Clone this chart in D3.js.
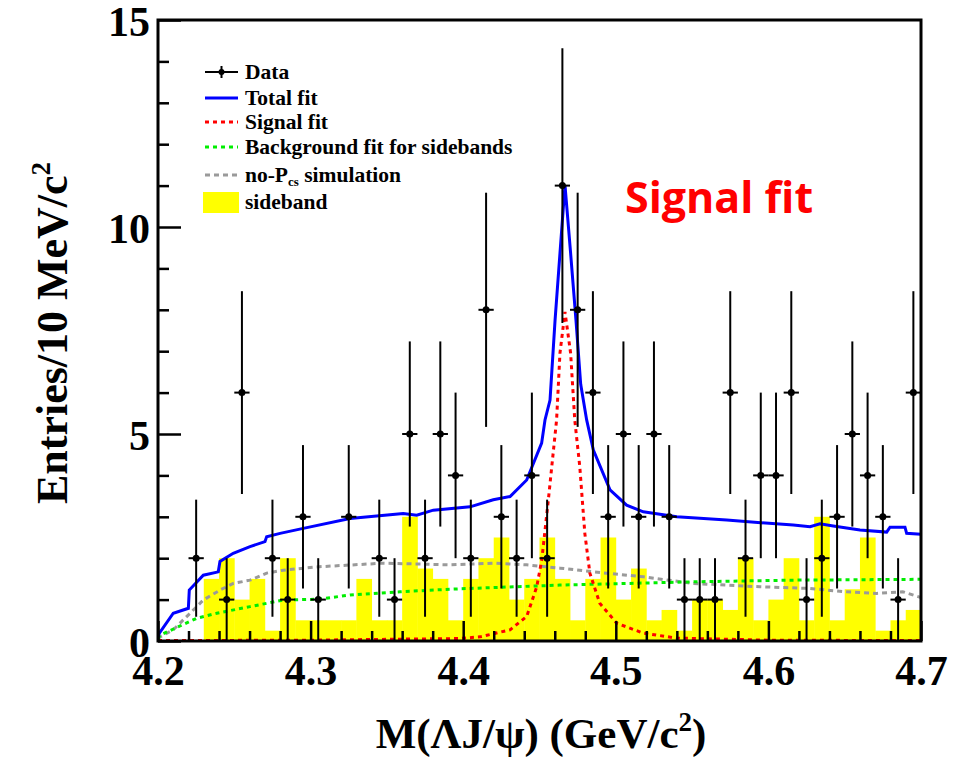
<!DOCTYPE html>
<html><head><meta charset="utf-8">
<script src="https://cdn.jsdelivr.net/npm/d3@7"></script>
<style>
html,body{margin:0;padding:0;background:#fff;}
svg{display:block;}
</style>
</head><body>
<svg id="chart" width="968" height="759"></svg>
<script>
// ---- Data: M(ΛJ/ψ) spectrum, 10 MeV bins from 4.20 to 4.70 GeV ----
const binCenters = [
  4.205,4.215,4.225,4.235,4.245,4.255,4.265,4.275,4.285,4.295,
  4.305,4.315,4.325,4.335,4.345,4.355,4.365,4.375,4.385,4.395,
  4.405,4.415,4.425,4.435,4.445,4.455,4.465,4.475,4.485,4.495,
  4.505,4.515,4.525,4.535,4.545,4.555,4.565,4.575,4.585,4.595,
  4.605,4.615,4.625,4.635,4.645,4.655,4.665,4.675,4.685,4.695
];
const dataCounts = [
  0,0,2,0,1,6,0,2,1,3,
  1,0,3,0,2,1,5,2,5,4,
  2,8,3,2,4,2,11,8,6,3,
  5,3,5,3,1,1,1,6,2,4,
  4,6,1,2,3,5,4,3,1,6
];
const sidebandCounts = [
  0,0,0,1.5,2,1,1.5,0.25,2,0.5,
  0.5,0.5,0.5,1.5,0.5,0.5,3,1.75,1.5,0.5,
  1.5,2,2.5,1,1.5,2.5,1.5,0.5,1.5,2.5,
  1,1.75,0.5,0.75,0.25,1,1,0.75,2,0.5,
  1,2,0.5,3,0.5,1.25,2.5,0.25,0.5,0.75
];
// Total fit [mass, entries]
const totalFit = [
  [4.2000,0.10],[4.2009,0.19],[4.2100,0.67],[4.2199,0.79],[4.2205,1.23],
  [4.2297,1.59],[4.2395,1.67],[4.2406,1.92],[4.2493,2.12],[4.2603,2.28],
  [4.2701,2.40],[4.2712,2.52],[4.2800,2.60],[4.2952,2.72],[4.3258,2.96],
  [4.3607,3.08],[4.3695,3.04],[4.3804,3.16],[4.4045,3.24],[4.4197,3.41],
  [4.4307,3.49],[4.4416,3.89],[4.4514,4.78],[4.4536,5.34],[4.4569,5.82],
  [4.4602,7.75],[4.4634,9.36],[4.4667,11.01],[4.4704,9.36],[4.4739,7.75],
  [4.4770,6.20],[4.4809,5.34],[4.4853,4.61],[4.4962,3.65],[4.5071,3.28],
  [4.5180,3.12],[4.5399,3.00],[4.5727,2.92],[4.6163,2.80],[4.6273,2.76],
  [4.6338,2.83],[4.6425,2.78],[4.6600,2.68],[4.6775,2.63],[4.6797,2.75],
  [4.6895,2.75],[4.6906,2.60],[4.7000,2.58]
];
// Signal fit [mass, entries]
const signalFit = [
  [4.2000,0.01],[4.3000,0.02],[4.3979,0.06],[4.4110,0.10],[4.4307,0.27],
  [4.4416,0.59],[4.4482,1.31],[4.4515,1.96],[4.4558,3.41],[4.4612,5.34],
  [4.4634,6.95],[4.4667,7.95],[4.4704,6.95],[4.4731,5.34],[4.4764,4.21],
  [4.4797,2.60],[4.4830,1.64],[4.4895,0.91],[4.5006,0.43],[4.5180,0.19],
  [4.5399,0.07],[4.6000,0.02],[4.7000,0.01]
];
// Background fit for sidebands [mass, entries]
const bkgFit = [
  [4.2000,0.05],[4.2013,0.14],[4.2254,0.55],[4.2385,0.67],[4.2603,0.83],
  [4.2821,0.99],[4.3051,1.01],[4.3258,1.11],[4.3586,1.19],[4.3913,1.25],
  [4.4045,1.27],[4.4634,1.35],[4.5508,1.43],[4.6163,1.47],[4.7000,1.49]
];
// no-Pcs simulation [mass, entries]
const noPcsSim = [
  [4.2000,0.05],[4.2013,0.10],[4.2100,0.27],[4.2210,0.67],[4.2297,0.99],
  [4.2406,1.23],[4.2493,1.39],[4.2603,1.47],[4.2712,1.64],[4.2821,1.71],
  [4.3039,1.79],[4.3476,1.88],[4.3913,1.84],[4.4197,1.88],[4.4416,1.84],
  [4.4634,1.76],[4.4853,1.67],[4.5180,1.55],[4.5508,1.39],[4.5945,1.31],
  [4.6273,1.27],[4.6491,1.19],[4.6710,1.15],[4.6880,1.19],[4.7000,1.05]
];
const xTicks = [4.2,4.3,4.4,4.5,4.6,4.7];
const xMinorTicks = [4.22,4.24,4.26,4.28,4.32,4.34,4.36,4.38,4.42,4.44,4.46,4.48,
                     4.52,4.54,4.56,4.58,4.62,4.64,4.66,4.68];
const yTicks = [0,5,10,15];
const yMinorTicks = [1,2,3,4,6,7,8,9,11,12,13,14];
const legendLabels = ["Data","Total fit","Signal fit","Background fit for sidebands","no-P","sideband"];

// ---- Layout ----
const svg = d3.select("#chart");
const L = 158, R = 921, T = 20, B = 641;
const x = d3.scaleLinear().domain([4.2, 4.7]).range([L, R]);
const y = d3.scaleLinear().domain([0, 15]).range([B, T]);
const binHalf = 0.005;
const serif = "'Liberation Serif','Times New Roman',serif";

svg.append("defs").append("clipPath").attr("id","plot")
  .append("rect").attr("x",L).attr("y",T).attr("width",R-L).attr("height",B-T);

const plot = svg.append("g").attr("clip-path","url(#plot)");

// sideband histogram
plot.append("g").selectAll("rect")
  .data(binCenters.map((c,i)=>({c, v: sidebandCounts[i]})).filter(d=>d.v>0))
  .join("rect")
  .attr("x", d=>x(d.c-binHalf))
  .attr("width", d=>x(d.c+binHalf)-x(d.c-binHalf)+0.4)
  .attr("y", d=>y(d.v))
  .attr("height", d=>y(0)-y(d.v))
  .attr("fill","#ffff00");

const line = d3.line().x(d=>x(d[0])).y(d=>y(d[1]));

plot.append("path").datum(noPcsSim).attr("d", line)
  .attr("fill","none").attr("stroke","#9a9a9a").attr("stroke-width",3)
  .attr("stroke-dasharray","5,4");
plot.append("path").datum(bkgFit).attr("d", line)
  .attr("fill","none").attr("stroke","#00ee00").attr("stroke-width",3)
  .attr("stroke-dasharray","4,4");
plot.append("path").datum(signalFit).attr("d", line)
  .attr("fill","none").attr("stroke","#ff0000").attr("stroke-width",3)
  .attr("stroke-dasharray","4,4");
plot.append("path").datum(totalFit).attr("d", line)
  .attr("fill","none").attr("stroke","#0000ff").attr("stroke-width",3);

// data points with Poisson error bars
const pts = binCenters.map((c,i)=>({c, n: dataCounts[i]})).filter(d=>d.n>0);
const dg = plot.append("g").attr("stroke","#000").attr("stroke-width",2);
dg.selectAll("line.v").data(pts).join("line").attr("class","v")
  .attr("x1",d=>x(d.c)).attr("x2",d=>x(d.c))
  .attr("y1",d=>y(d.n+Math.sqrt(d.n))).attr("y2",d=>y(d.n-Math.sqrt(d.n)));
dg.selectAll("line.h").data(pts).join("line").attr("class","h")
  .attr("x1",d=>x(d.c-binHalf)).attr("x2",d=>x(d.c+binHalf))
  .attr("y1",d=>y(d.n)).attr("y2",d=>y(d.n));
plot.append("g").selectAll("circle").data(pts).join("circle")
  .attr("cx",d=>x(d.c)).attr("cy",d=>y(d.n)).attr("r",3.5).attr("fill","#000");

// ---- Axes ----
const axisFont = g => g.selectAll("text")
  .attr("font-family", serif).attr("font-weight","bold").attr("font-size",42).attr("fill","#000");

const yAxis = svg.append("g").attr("transform",`translate(${L},0)`)
  .call(d3.axisLeft(y).tickValues(yTicks).tickSize(-23).tickPadding(8).tickFormat(d3.format("d")));
yAxis.select(".domain").remove();
yAxis.selectAll("line").attr("stroke","#000").attr("stroke-width",2.5);
axisFont(yAxis);
yAxis.selectAll("text").attr("dy","0.36em");
svg.append("g").attr("transform",`translate(${L},0)`)
  .call(d3.axisLeft(y).tickValues(yMinorTicks).tickSize(-11).tickFormat(""))
  .call(g=>{g.select(".domain").remove(); g.selectAll("line").attr("stroke","#000").attr("stroke-width",2.5);});

const xAxis = svg.append("g").attr("transform",`translate(0,${B})`)
  .call(d3.axisBottom(x).tickValues(xTicks).tickSize(-20).tickPadding(18).tickFormat(d3.format(".1f")));
xAxis.select(".domain").remove();
xAxis.selectAll("line").attr("stroke","#000").attr("stroke-width",2.5);
axisFont(xAxis);
xAxis.selectAll("text").attr("dy","0.62em");
svg.append("g").attr("transform",`translate(0,${B})`)
  .call(d3.axisBottom(x).tickValues(xMinorTicks).tickSize(-10).tickFormat(""))
  .call(g=>{g.select(".domain").remove(); g.selectAll("line").attr("stroke","#000").attr("stroke-width",2.5);});

// frame
svg.append("rect").attr("x",L).attr("y",T).attr("width",R-L).attr("height",B-T)
  .attr("fill","none").attr("stroke","#000").attr("stroke-width",3);

// axis titles
const xt = svg.append("text").attr("x",541).attr("y",748).attr("text-anchor","middle")
  .attr("font-family",serif).attr("font-weight","bold").attr("font-size",43);
xt.append("tspan").text("M(ΛJ/ψ) (GeV/c");
xt.append("tspan").attr("dy",-17).attr("font-size",27).text("2");
xt.append("tspan").attr("dy",17).text(")");

const yt = svg.append("text").attr("transform","translate(67,333) rotate(-90)").attr("text-anchor","middle")
  .attr("font-family",serif).attr("font-weight","bold").attr("font-size",44);
yt.append("tspan").text("Entries/10 MeV/c");
yt.append("tspan").attr("dy",-17).attr("font-size",27).text("2");

// ---- Legend ----
const lg = svg.append("g").attr("font-family",serif).attr("font-weight","bold").attr("font-size",21.5);
const rowY = [72, 98, 122, 147, 175, 202];
const sx0 = 205, sx1 = 238, tx = 245;
// Data
lg.append("line").attr("x1",sx0).attr("x2",sx1).attr("y1",rowY[0]).attr("y2",rowY[0]).attr("stroke","#000").attr("stroke-width",2);
lg.append("line").attr("x1",(sx0+sx1)/2).attr("x2",(sx0+sx1)/2).attr("y1",rowY[0]-6).attr("y2",rowY[0]+6).attr("stroke","#000").attr("stroke-width",2);
lg.append("circle").attr("cx",(sx0+sx1)/2).attr("cy",rowY[0]).attr("r",3).attr("fill","#000");
// lines
const legStyles = [null,
  {c:"#0000ff", dash:null},
  {c:"#ff0000", dash:"4,4"},
  {c:"#00ee00", dash:"4,4"},
  {c:"#9a9a9a", dash:"5,4"}];
for (let i=1;i<=4;i++){
  lg.append("line").attr("x1",sx0).attr("x2",sx1).attr("y1",rowY[i]).attr("y2",rowY[i])
    .attr("stroke",legStyles[i].c).attr("stroke-width",3)
    .attr("stroke-dasharray",legStyles[i].dash);
}
lg.append("rect").attr("x",sx0-2).attr("y",rowY[5]-10).attr("width",sx1-sx0+3).attr("height",21).attr("fill","#ffff00");
legendLabels.forEach((t,i)=>{
  const te = lg.append("text").attr("x",tx).attr("y",rowY[i]+7).text(t);
  if (i===4){
    te.append("tspan").attr("dy",4).attr("font-size",13).text("cs");
    te.append("tspan").attr("dy",-4).text(" simulation");
  }
});

// annotation
svg.append("text").attr("x",625).attr("y",213)
  .attr("font-family","'Open Sans','Noto Sans',sans-serif").attr("font-weight","bold")
  .attr("font-size",43).attr("fill","#ff0000").text("Signal fit");
</script>
</body></html>
